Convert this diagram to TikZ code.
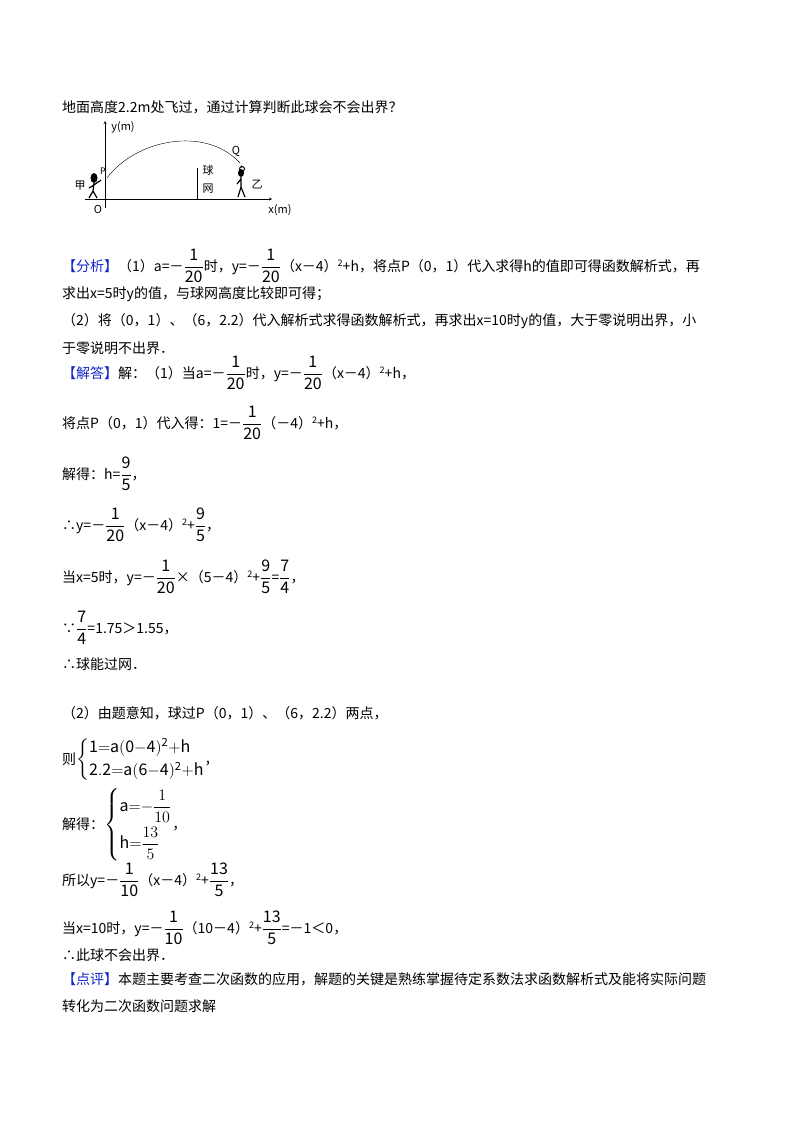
\documentclass[tikz,border=0pt]{standalone}
\usepackage{amsmath}
\usepackage{fix-cm}
\usepackage{fontspec}
\setmainfont{Noto Sans CJK SC}
\definecolor{tagblue}{RGB}{20,40,200}
\newcommand\fr[2]{{\fontsize{16}{18}\selectfont$\dfrac{\mathrm{#1}}{\mathrm{#2}}$}}
\newcommand\sq{\raisebox{5pt}{\fontsize{9}{9}\selectfont 2}}
\tikzset{line/.style={anchor=west,inner sep=0pt,font=\fontsize{14}{16}\selectfont},
 lbl/.style={inner sep=0pt,font=\fontsize{11}{12}\selectfont},
 tag/.style={text=tagblue}}
\begin{document}
\begin{tikzpicture}[x=1pt,y=-1pt]
\useasboundingbox[fill=white] (0,0) rectangle (800,1132);
\node[line] (l0) at (62,107) {地面高度2.2m处飞过，通过计算判断此球会不会出界？};
% figure
\coordinate (ya) at (105,208); \coordinate (yb) at (105,121);
\coordinate (xa) at (85,199); \coordinate (xb) at (272,199);
\draw[->,>=stealth] (ya) -- (yb);
\draw[->,>=stealth] (xa) -- (xb);
\coordinate (c0) at (107,178); \coordinate (c1) at (240,163);
\draw (c0) .. controls (135,140) and (205,125) .. (c1);
\coordinate (n0) at (197,168); \coordinate (n1) at (197,199);
\draw[line width=0.8pt] (n0) -- (n1);
\node[lbl] (ylab) at (123,127) {y(m)};
\node[lbl] (xlab) at (280,210) {x(m)};
\node[lbl,font=\itshape\fontsize{11}{12}\selectfont] (O) at (98,209) {O};
\node[lbl,font=\itshape\fontsize{9}{10}\selectfont] (P) at (103,171) {P};
\node[lbl,font=\itshape\fontsize{11}{12}\selectfont] (Q) at (236,151) {Q};
\node[lbl] (q1) at (208,170) {球};
\node[lbl] (q2) at (208,189) {网};
\node[lbl] (yi) at (257,185) {乙};
\node[lbl] (jia) at (80,186) {甲};
% player left
\fill (94,178) ellipse (3.5 and 5);
\draw[line width=1.2pt] (94,183) -- (93,191) (93,191) -- (89,198) (93,191) -- (97,198) (94,185) -- (89,188) (94,185) -- (101,180);
% player right
\fill (241,173) ellipse (3 and 4);
\draw[line width=1pt] (242,169) circle (2.5);
\draw[line width=1.2pt] (241,177) -- (241,187) (241,187) -- (238,197) (241,187) -- (245,197) (241,179) -- (237,184);
\draw (241,165) -- (242,168);
% text
\node[line] (a1) at (62,266) {\textcolor{tagblue}{【分析】}（1）a=－\fr{1}{20}时，y=－\fr{1}{20}（x－4）\sq+h，将点P（0，1）代入求得h的值即可得函数解析式，再};
\node[line] (a2) at (62,294) {求出x=5时y的值，与球网高度比较即可得；};
\node[line] (a3) at (62,321) {（2）将（0，1）、（6，2.2）代入解析式求得函数解析式，再求出x=10时y的值，大于零说明出界，小};
\node[line] (a4) at (62,348) {于零说明不出界．};
\node[line] (b1) at (62,373) {\textcolor{tagblue}{【解答】}解：（1）当a=－\fr{1}{20}时，y=－\fr{1}{20}（x－4）\sq+h，};
\node[line] (b2) at (62,423) {将点P（0，1）代入得：1=－\fr{1}{20}（－4）\sq+h，};
\node[line] (b3) at (62,474) {解得：h=\fr{9}{5}，};
\node[line] (b4) at (62,525) {∴y=－\fr{1}{20}（x－4）\sq+\fr{9}{5}，};
\node[line] (b5) at (62,577) {当x=5时，y=－\fr{1}{20}×（5－4）\sq+\fr{9}{5}=\fr{7}{4}，};
\node[line] (b6) at (62,628) {∵\fr{7}{4}=1.75＞1.55，};
\node[line] (b7) at (62,664) {∴球能过网．};
\node[line] (c1t) at (62,713) {（2）由题意知，球过P（0，1）、（6，2.2）两点，};
\node[line] (c2) at (62,760) {则{\fontsize{16}{18}\selectfont$\left\{\begin{array}{@{}l@{}}\mathrm{1{=}a(0{-}4)^2{+}h}\\[4pt] \mathrm{2.2{=}a(6{-}4)^2{+}h}\end{array}\right.$}，};
\node[line] (c3) at (62,825) {解得：{\fontsize{16}{18}\selectfont$\left\{\begin{array}{@{}l@{}}\mathrm{a{=}{-}}\dfrac{1}{10}\\[10pt] \mathrm{h{=}}\dfrac{13}{5}\end{array}\right.$}，};
\node[line] (c4) at (62,880) {所以y=－\fr{1}{10}（x－4）\sq+\fr{13}{5}，};
\node[line] (c5) at (62,928) {当x=10时，y=－\fr{1}{10}（10－4）\sq+\fr{13}{5}=－1＜0，};
\node[line] (c6) at (62,955) {∴此球不会出界．};
\node[line] (d1) at (62,979) {\textcolor{tagblue}{【点评】}本题主要考查二次函数的应用，解题的关键是熟练掌握待定系数法求函数解析式及能将实际问题};
\node[line] (d2) at (62,1006) {转化为二次函数问题求解};
\end{tikzpicture}
\end{document}
